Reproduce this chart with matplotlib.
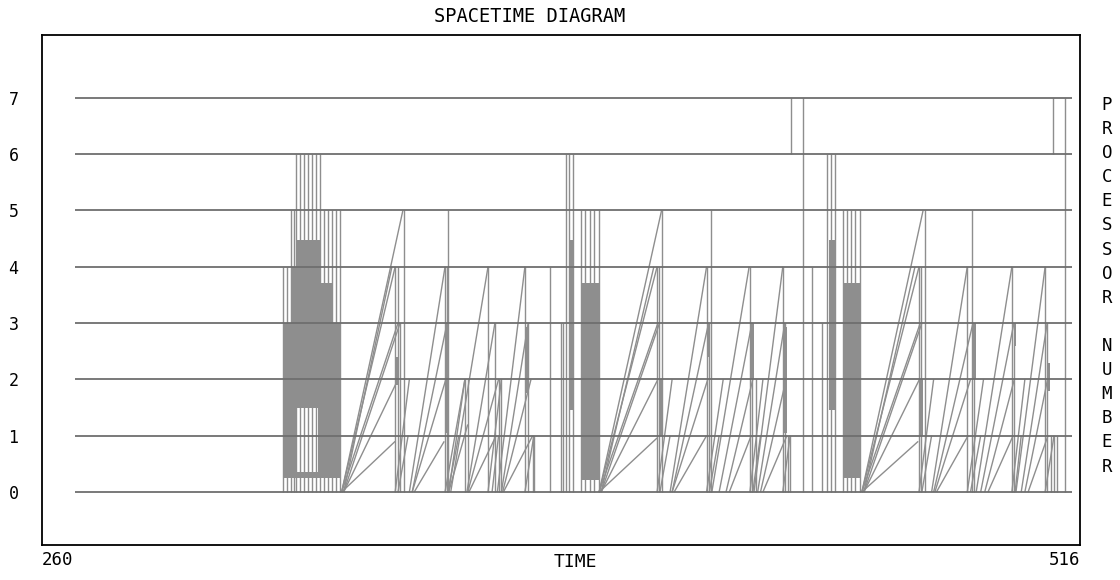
import numpy as np
import matplotlib
matplotlib.use("Agg")
from matplotlib import pyplot as plt
from matplotlib.collections import LineCollection

# processors and time span of the trace
procs = [0, 1, 2, 3, 4, 5, 6, 7]
t_start = 268.1
t_end = 514.0
x_min, x_max = 260, 516

# vertical marks: (time, low proc, high proc)
verts_a = [(319.4, 0, 4), (320.4, 0, 4), (321.4, 0, 5), (322.1, 0, 5),
           (322.6, 0, 6), (323.6, 0, 6), (324.6, 0, 6), (325.6, 0, 6),
           (326.6, 0, 6), (327.6, 0, 6), (328.6, 0, 6),
           (329.6, 0, 5), (330.6, 0, 5), (331.5, 0, 5), (332.5, 0, 5), (333.5, 0, 5),
           (347.1, 0, 4), (347.8, 0, 4), (348.3, 0, 3), (349.3, 0, 5),
           (359.4, 0, 4), (359.9, 0, 4), (360.1, 0, 5),
           (364.3, 0, 2), (365.0, 0, 2),
           (370.0, 0, 4), (371.7, 0, 3), (372.6, 0, 2), (373.3, 0, 2),
           (379.1, 0, 4), (379.9, 0, 3), (381.0, 0, 1), (381.3, 0, 1),
           (385.3, 0, 4)]
verts_b = [(388.0, 0, 3), (388.5, 0, 3), (389.2, 0, 6), (390.0, 0, 6), (391.0, 0, 6),
           (392.9, 0, 5), (394.0, 0, 5), (395.1, 0, 5), (396.2, 0, 5), (397.3, 0, 5),
           (411.7, 0, 4), (412.2, 0, 4), (412.9, 0, 5),
           (423.9, 0, 4), (424.4, 0, 3), (424.9, 0, 5),
           (434.6, 0, 4), (435.1, 0, 3), (436.0, 0, 2),
           (442.7, 0, 4), (443.2, 0, 3), (444.0, 0, 1), (444.5, 0, 1),
           (444.7, 6, 7), (447.7, 0, 7),
           (449.9, 0, 4), (452.4, 0, 3)]
verts_c = [(453.6, 0, 6), (454.6, 0, 6), (455.6, 0, 6),
           (457.6, 0, 5), (458.6, 0, 5), (459.6, 0, 5), (460.6, 0, 5), (461.7, 0, 5),
           (476.3, 0, 4), (476.8, 0, 4), (477.8, 0, 5),
           (488.2, 0, 4), (489.4, 0, 5), (489.9, 0, 3),
           (499.2, 0, 4), (499.8, 0, 3),
           (507.4, 0, 4), (507.9, 0, 3), (508.9, 0, 1), (509.6, 0, 1), (510.3, 0, 1),
           (509.3, 6, 7), (512.3, 0, 7)]

# dense busy areas: (t0, t1, low proc, high proc)
fills = [(322.6, 328.6, 4.0, 4.48), (321.4, 328.6, 3.0, 4.0), (328.6, 331.5, 3.0, 3.71),
         (319.4, 322.6, 0.25, 3.0), (328.1, 333.5, 0.25, 3.0),
         (322.6, 328.1, 1.5, 3.0), (322.6, 328.1, 0.25, 0.35),
         (359.4, 360.1, 1.05, 3.0), (347.1, 347.9, 1.9, 2.4), (379.3, 380.0, 1.76, 2.93),
         (390.2, 391.0, 1.46, 4.48), (392.9, 397.3, 0.21, 3.71),
         (412.2, 413.2, 1.0, 2.0), (424.0, 424.6, 2.4, 3.0), (434.9, 435.6, 2.0, 3.0),
         (443.0, 443.7, 1.05, 2.93),
         (454.0, 455.6, 1.46, 4.48), (457.6, 461.7, 0.25, 3.71),
         (476.6, 477.2, 1.0, 2.0), (489.6, 490.4, 2.0, 3.0), (499.6, 500.2, 2.6, 3.0),
         (507.9, 508.5, 1.8, 2.3)]

# messages: (send time, from proc, receive time, to proc)
msgs_a = [(333.9, 0, 349.0, 5), (333.9, 0, 347.1, 4), (334.4, 0, 346.3, 4),
          (333.9, 0, 347.8, 3), (334.4, 0, 348.3, 3), (334.4, 0, 347.8, 2),
          (333.9, 0, 347.1, 0.9),
          (350.6, 0, 359.4, 4), (351.3, 0, 359.9, 3), (351.3, 0, 359.6, 2), (351.8, 0, 359.2, 0.9),
          (360.3, 0, 364.3, 2), (360.3, 0, 365.0, 1.2), (360.8, 0, 370.0, 4),
          (364.8, 0, 371.7, 3), (365.0, 0, 372.6, 2), (365.3, 0, 372.0, 1.0),
          (372.3, 0, 379.1, 4), (373.3, 0, 379.9, 3), (373.6, 0, 380.6, 2), (373.8, 0, 381.0, 1),
          (347.1, 0, 350.6, 2.0), (347.8, 0, 350.3, 1.0), (359.4, 0, 364.3, 2.0),
          (360.1, 0, 362.8, 1.0), (370.0, 0, 373.3, 2.0), (371.0, 0, 372.6, 1.0),
          (379.1, 0, 381.3, 1.0)]
msgs_b = [(397.4, 0, 412.8, 5), (397.4, 0, 411.7, 4), (397.9, 0, 410.9, 4),
          (397.4, 0, 411.9, 3), (397.9, 0, 412.3, 3), (397.9, 0, 411.9, 2),
          (397.4, 0, 411.7, 0.96),
          (414.9, 0, 423.9, 4), (415.4, 0, 424.4, 3), (415.4, 0, 424.2, 2), (415.9, 0, 423.9, 1.0),
          (425.2, 0, 434.4, 4), (427.0, 0, 435.1, 3), (428.7, 0, 435.3, 2), (429.5, 0, 434.9, 1),
          (435.6, 0, 442.7, 4), (436.5, 0, 443.2, 3), (437.2, 0, 443.5, 2), (437.8, 0, 443.7, 1),
          (411.7, 0, 415.4, 2.0), (412.4, 0, 414.9, 1.0), (423.9, 0, 428.0, 2.0),
          (424.6, 0, 427.0, 1.0), (434.6, 0, 437.8, 2.0), (435.3, 0, 437.2, 1.0),
          (442.7, 0, 444.5, 1.0)]
msgs_c = [(462.2, 0, 477.3, 5), (462.2, 0, 476.3, 4), (462.7, 0, 475.3, 4),
          (462.2, 0, 476.6, 3), (462.7, 0, 477.0, 3), (462.7, 0, 476.4, 2),
          (462.2, 0, 476.1, 0.9),
          (479.4, 0, 488.2, 4), (479.9, 0, 489.6, 3), (480.2, 0, 489.0, 2), (480.6, 0, 488.4, 1),
          (490.4, 0, 499.2, 4), (491.5, 0, 499.7, 3), (492.5, 0, 499.8, 2), (493.3, 0, 499.5, 1),
          (500.2, 0, 507.4, 4), (501.5, 0, 507.9, 3), (502.4, 0, 508.0, 2), (503.2, 0, 508.1, 1),
          (476.3, 0, 479.9, 2.0), (477.0, 0, 479.4, 1.0), (488.2, 0, 492.2, 2.0),
          (489.0, 0, 491.5, 1.0), (499.2, 0, 502.4, 2.0), (500.0, 0, 501.5, 1.0),
          (507.4, 0, 509.6, 1.0)]

title = "SPACETIME DIAGRAM"
xlabel = "TIME"
ylabel = "PROCESSOR NUMBER"

MONO = "DejaVu Sans Mono"
GRAY = "#8e8e8e"

fig = plt.figure(figsize=(11.2, 5.8), dpi=100)
ax = fig.add_axes([42 / 1120, 1 - 545 / 580, 1038 / 1120, 510 / 580])
ax.set_xlim(x_min, x_max)
ax.set_ylim(-0.941, 8.117)

# busy blocks
for t0, t1, lo, hi in fills:
    ax.bar(t0, hi - lo, width=t1 - t0, bottom=lo, align="edge",
           color=GRAY, linewidth=0, zorder=1)

# vertical marks
verts = verts_a + verts_b + verts_c
vt = [v[0] for v in verts]
vlo = [v[1] for v in verts]
vhi = [v[2] for v in verts]
ax.vlines(vt, vlo, vhi, colors=GRAY, linewidth=1.0, zorder=2)

# messages
msgs = msgs_a + msgs_b + msgs_c
segs = [[(m[0], m[1]), (m[2], m[3])] for m in msgs]
ax.add_collection(LineCollection(segs, colors=GRAY, linewidths=1.0, zorder=2))

# processor lines
ax.hlines(procs, t_start, t_end, colors="#6e6e6e", linewidth=1.3, zorder=3)

ax.set_yticks(procs)
ax.set_yticklabels([str(p) for p in procs], fontfamily=MONO, fontsize=12)
ax.set_xticks([x_min, x_max])
xl = ax.set_xticklabels([str(x_min), str(x_max)], fontfamily=MONO, fontsize=12.5)
xl[0].set_horizontalalignment("left")
xl[1].set_horizontalalignment("right")
ax.tick_params(axis="y", length=0, pad=17)
ax.tick_params(axis="x", length=0, pad=4)
for s in ax.spines.values():
    s.set_linewidth(1.3)
    s.set_color("black")

fig.text(530 / 1120, 1 - 17 / 580, title, ha="center", va="center",
         fontfamily=MONO, fontsize=13.5)
fig.text(575 / 1120, 1 - 562 / 580, xlabel, ha="center", va="center",
         fontfamily=MONO, fontsize=13)
for i, ch in enumerate(ylabel):
    if ch != " ":
        fig.text(1107 / 1120, 1 - (105 + i * 24.1) / 580, ch, ha="center", va="center",
                 fontfamily=MONO, fontsize=12.5)

fig.savefig("out.png", dpi=100)
